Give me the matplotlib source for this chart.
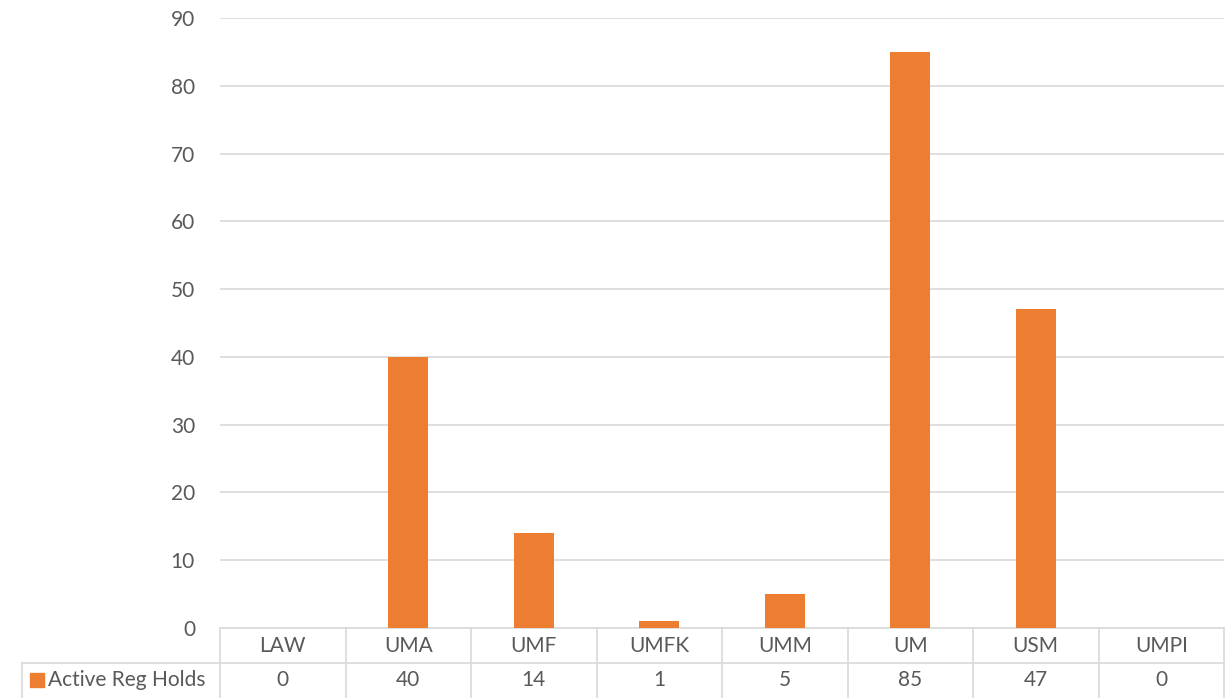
import numpy as np
import matplotlib.pyplot as plt
import matplotlib.transforms as mtransforms

categories = ['LAW', 'UMA', 'UMF', 'UMFK', 'UMM', 'UM', 'USM', 'UMPI']
holds = [0, 40, 14, 1, 5, 85, 47, 0]
series_name = 'Active Reg Holds'

orange = '#ED7D31'
grid_c = '#D9D9D9'
txt_c = '#595959'
fs = 15

plt.rcParams['font.family'] = ['Lato', 'DejaVu Sans']

fig = plt.figure(figsize=(12.3, 6.98), dpi=100)
W, H = 1230, 698
L, R, T, B = 220, 1224, 18, 628
ax = fig.add_axes([L / W, 1 - B / H, (R - L) / W, (B - T) / H])

x = np.arange(len(categories))
ax.bar(x, holds, width=0.32, color=orange, zorder=3)
ax.set_xlim(-0.5, len(categories) - 0.5)
ax.set_ylim(0, 90)
ax.set_yticks(range(0, 91, 10))
ax.grid(axis='y', color=grid_c, linewidth=1.2, zorder=0)
ax.set_xticks([])
for s in ax.spines.values():
    s.set_visible(False)
ax.tick_params(axis='y', length=0, pad=18, labelsize=fs, labelcolor=txt_c)

# data table under the plot, drawn by hand
axh = B - T
axw = R - L
def ypos(py):
    return (B - py) / axh

y_top, y_mid, y_bot = ypos(628), ypos(663), ypos(697)
blend = mtransforms.blended_transform_factory(ax.transData, ax.transAxes)
n = len(categories)
lk = dict(color=grid_c, lw=1.2, clip_on=False)
for b in np.arange(n + 1) - 0.5:
    ax.plot([b, b], [y_top, y_bot], transform=blend, **lk)
ax.plot([-0.5, n - 0.5], [y_top, y_top], transform=blend, **lk)
ax.plot([-0.5, n - 0.5], [y_mid, y_mid], transform=blend, **lk)
x_leg = (22 - L) / axw
ax.plot([x_leg, 0], [y_mid, y_mid], transform=ax.transAxes, **lk)
ax.plot([x_leg, x_leg], [y_mid, y_bot], transform=ax.transAxes, **lk)

for i, c in enumerate(categories):
    ax.text(i, (y_top + y_mid) / 2, c, transform=blend, ha='center', va='center',
            fontsize=fs, color=txt_c)
    ax.text(i, (y_mid + y_bot) / 2, str(holds[i]), transform=blend, ha='center',
            va='center', fontsize=fs, color=txt_c)

# legend key inside the row-label cell
ky = (y_mid + y_bot) / 2
ax.scatter([(37 - L) / axw], [ky], marker='s', s=90, color=orange,
           transform=ax.transAxes, clip_on=False, zorder=5)
ax.text((48 - L) / axw, ky, series_name, transform=ax.transAxes,
        ha='left', va='center', fontsize=fs, color=txt_c)

fig.savefig('out.png', dpi=100)
